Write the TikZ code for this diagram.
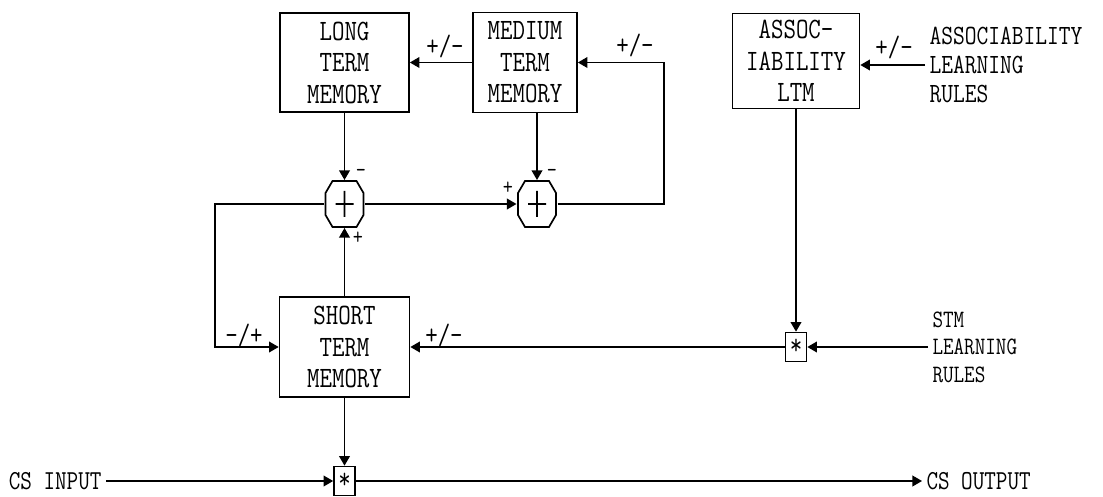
\documentclass[tikz,border=0pt]{standalone}
\usepackage{fontspec}
\setmonofont[FakeStretch=0.82]{Latin Modern Mono}
\usetikzlibrary{positioning,arrows.meta,calc,shapes.misc}

\begin{document}
\begin{tikzpicture}[x=0.025cm,y=-0.025cm,
    arr/.style={line width=0.9pt,-{Triangle[length=0.24cm,width=0.27cm]}},
    boxfont/.style={font=\fontsize{21}{22.4}\ttfamily\selectfont},
    memory/.style={draw,line width=1.2pt,align=center,inner sep=0pt,boxfont},
    sumnode/.style={rectangle,minimum width=1.025cm,minimum height=1.2cm,inner sep=0pt,outer sep=0pt,
      path picture={\draw[line width=1.2pt,shift={(path picture bounding box.center)}]
          (-12,-23) -- (12,-23) -- (19,-11) -- (19,11) -- (12,23) -- (-12,23) -- (-19,11) -- (-19,-11) -- cycle
          (-9,0) -- (9,0) (0,-13) -- (0,13);}},
    multnode/.style={draw,line width=1.2pt,minimum width=0.525cm,minimum height=0.725cm,inner sep=0pt,boxfont},
    ruletext/.style={align=left,inner sep=3pt},
    iotext/.style={inner sep=3pt,font=\fontsize{19.5}{22}\ttfamily\selectfont},
    sign/.style={inner sep=0pt,boxfont},
    smallsign/.style={inner sep=0pt,font=\fontsize{17}{18}\ttfamily\selectfont}]
  \useasboundingbox (0,0) rectangle (1103,497);

  \node[memory,minimum width=3.225cm,minimum height=2.475cm] (ltm) at (344.5,62.5) {LONG\\TERM\\MEMORY};
  \node[memory,minimum width=2.6cm,minimum height=2.5cm] (mtm) at (525,62.5) {MEDIUM\\TERM\\MEMORY};
  \node[memory,minimum width=3.175cm,minimum height=2.375cm] (assoc) at (796,61) {ASSOC-\\IABILITY\\LTM};
  \node[memory,minimum width=3.25cm,minimum height=2.5cm] (stm) at (344.5,347) {SHORT\\TERM\\MEMORY};

  \node[sumnode] (sum1) at (344.5,204) {};
  \node[sumnode] (sum2) at (537,204) {};
  \node[multnode] (mult2) at (796,347) {*};
  \node[multnode] (mult1) at (344.5,481) {*};

  \node[ruletext,anchor=west,font=\fontsize{19.8}{20.5}\ttfamily\selectfont] (assocrules) at (925,65) {ASSOCIABILITY\\LEARNING\\RULES};
  \node[ruletext,anchor=west,font=\fontsize{17.8}{19.5}\ttfamily\selectfont] (stmrules) at (928,347) {STM\\LEARNING\\RULES};
  \node[iotext,anchor=east] (csin) at (106,481) {CS INPUT};
  \node[iotext,anchor=west] (csout) at (922,481) {CS OUTPUT};

  \coordinate (fbr) at (664,62.5);
  \coordinate (fbl) at (215,347);

  \draw[arr] (mtm) -- (ltm);
  \draw[arr] (ltm) -- (sum1);
  \draw[arr] (mtm.south -| sum2) -- (sum2);
  \draw[arr] (sum1) -- (sum2);
  \draw[arr] (sum2.east) -| (fbr) -- (mtm.east);
  \draw[arr] (sum1.west) -| (fbl) -- (stm.west);
  \draw[arr] (stm) -- (sum1);
  \draw[arr] (assocrules.west) -- (assoc.east |- assocrules.west);
  \draw[arr] (assoc) -- (mult2);
  \draw[arr] (stmrules.west) -- (mult2);
  \draw[arr] (mult2) -- (stm);
  \draw[arr] (stm) -- (mult1);
  \draw[arr] (csin) -- (mult1);
  \draw[arr] (mult1) -- (csout);

  \node[sign] (s1) at (445,46) {+/-};
  \node[sign] (s2) at (635,45) {+/-};
  \node[sign] (s3) at (894,47) {+/-};
  \node[sign] (s4) at (444,335) {+/-};
  \node[sign] (s5) at (244,335) {-/+};
  \node[smallsign] (s6) at (361,173) {-};
  \node[smallsign] (s7) at (552,173) {-};
  \node[smallsign] (s8) at (508,188) {+};
  \node[smallsign] (s9) at (358,238) {+};
\end{tikzpicture}
\end{document}
